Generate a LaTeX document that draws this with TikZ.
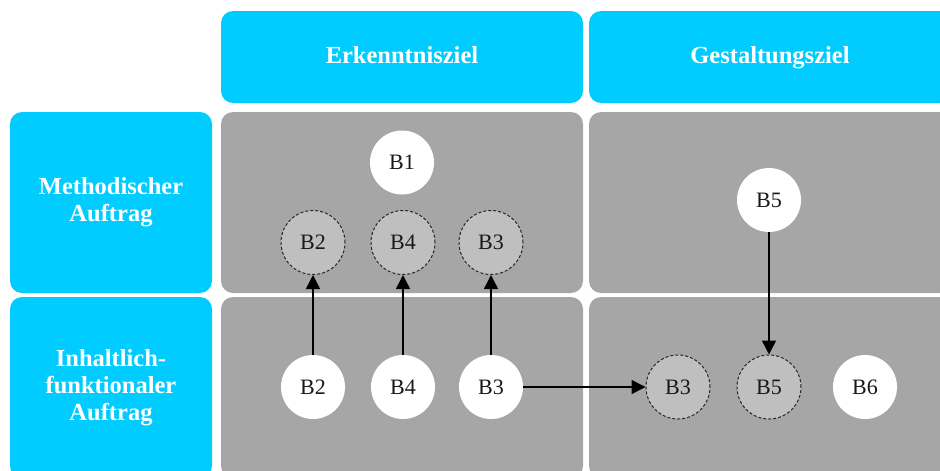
\documentclass[tikz,border=0pt]{standalone}
\usepackage{fontspec}
\setmainfont{Liberation Serif}
\usetikzlibrary{arrows.meta}
\definecolor{hdrcyan}{HTML}{00CCFF}
\definecolor{cellgrey}{HTML}{A6A6A6}
\definecolor{ghostfill}{HTML}{BFBFBF}
\begin{document}
\begin{tikzpicture}[x=1pt,y=-1pt,
  header/.style={fill=hdrcyan, rounded corners=12pt, inner sep=0pt, text=white,
    font=\fontsize{24.5}{26.7}\selectfont\bfseries, align=center},
  colhead/.style={header, minimum width=362pt, minimum height=92pt,
    text height=16.5pt, text depth=3pt},
  rowhead/.style={header, minimum width=202pt, minimum height=181pt},
  cell/.style={fill=cellgrey, rounded corners=12pt, inner sep=0pt,
    minimum width=362pt, minimum height=181pt},
  item/.style={circle, fill=white, minimum size=64pt, inner sep=0pt,
    font=\fontsize{22}{24}\selectfont, text=black!90},
  ghostitem/.style={item, fill=ghostfill, draw=black!85, line width=1pt,
    dash pattern=on 3pt off 2pt},
  link/.style={-{Triangle[length=14pt,width=14pt]}, line width=1.5pt, draw=black}
]
\useasboundingbox (0,0) rectangle (940,471);
\clip (0,0) rectangle (940,471);

% column headers
\node[colhead] (h1) at (402,57) {Erkenntnisziel};
\node[colhead] (h2) at (770,57) {Gestaltungsziel};
% row headers
\node[rowhead] (r1) at (111,202.5) {Methodischer\\Auftrag};
\node[rowhead] (r2) at (111,387.5) {Inhaltlich-\\funktionaler\\Auftrag};
% cells
\node[cell] (c11) at (402,202.5) {};
\node[cell] (c12) at (770,202.5) {};
\node[cell] (c21) at (402,387.5) {};
\node[cell] (c22) at (770,387.5) {};

% circles top-left
\node[item] (b1) at (402,162.5) {B1};
\node[ghostitem] (gb2) at (313,242.5) {B2};
\node[ghostitem] (gb4) at (403,242.5) {B4};
\node[ghostitem] (gb3) at (491,242.5) {B3};
% top-right
\node[item] (b5) at (769,200) {B5};
% bottom-left
\node[item] (b2) at (313,387) {B2};
\node[item] (b4) at (403,387) {B4};
\node[item] (b3) at (491,387) {B3};
% bottom-right
\node[ghostitem] (gb3r) at (678,387) {B3};
\node[ghostitem] (gb5) at (769,387) {B5};
\node[item] (b6) at (865,387) {B6};

% connectors
\draw[link] (b2) -- (gb2);
\draw[link] (b4) -- (gb4);
\draw[link] (b3) -- (gb3);
\draw[link] (b3) -- (gb3r);
\draw[link] (b5) -- (gb5);
\end{tikzpicture}
\end{document}
